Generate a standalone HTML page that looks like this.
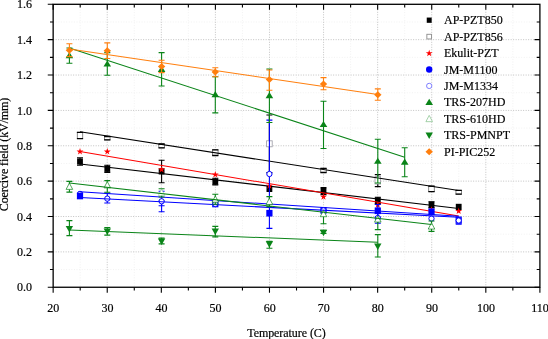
<!DOCTYPE html><html><head><meta charset="utf-8"><style>html,body{margin:0;padding:0;background:#fff}svg{display:block;will-change:transform}text{font-family:"Liberation Serif",serif;font-size:12px;fill:#000;stroke:#000;stroke-width:0.18px}</style></head><body>
<svg width="548" height="339" viewBox="0 0 548 339">
<rect width="548" height="339" fill="#fff"/>
<g fill="none" stroke-width="0.8">
<line x1="80.19" y1="4.3" x2="80.19" y2="287.25" stroke="#efefef" stroke-dasharray="1 1.6"/>
<line x1="134.28" y1="4.3" x2="134.28" y2="287.25" stroke="#efefef" stroke-dasharray="1 1.6"/>
<line x1="188.36" y1="4.3" x2="188.36" y2="287.25" stroke="#efefef" stroke-dasharray="1 1.6"/>
<line x1="242.44" y1="4.3" x2="242.44" y2="287.25" stroke="#efefef" stroke-dasharray="1 1.6"/>
<line x1="296.52" y1="4.3" x2="296.52" y2="287.25" stroke="#efefef" stroke-dasharray="1 1.6"/>
<line x1="350.61" y1="4.3" x2="350.61" y2="287.25" stroke="#efefef" stroke-dasharray="1 1.6"/>
<line x1="404.69" y1="4.3" x2="404.69" y2="287.25" stroke="#efefef" stroke-dasharray="1 1.6"/>
<line x1="458.77" y1="4.3" x2="458.77" y2="287.25" stroke="#efefef" stroke-dasharray="1 1.6"/>
<line x1="512.86" y1="4.3" x2="512.86" y2="287.25" stroke="#efefef" stroke-dasharray="1 1.6"/>
<line x1="53.15" y1="269.57" x2="539.9" y2="269.57" stroke="#efefef" stroke-dasharray="1 1.6"/>
<line x1="53.15" y1="234.20" x2="539.9" y2="234.20" stroke="#efefef" stroke-dasharray="1 1.6"/>
<line x1="53.15" y1="198.83" x2="539.9" y2="198.83" stroke="#efefef" stroke-dasharray="1 1.6"/>
<line x1="53.15" y1="163.46" x2="539.9" y2="163.46" stroke="#efefef" stroke-dasharray="1 1.6"/>
<line x1="53.15" y1="128.09" x2="539.9" y2="128.09" stroke="#efefef" stroke-dasharray="1 1.6"/>
<line x1="53.15" y1="92.72" x2="539.9" y2="92.72" stroke="#efefef" stroke-dasharray="1 1.6"/>
<line x1="53.15" y1="57.35" x2="539.9" y2="57.35" stroke="#efefef" stroke-dasharray="1 1.6"/>
<line x1="53.15" y1="21.98" x2="539.9" y2="21.98" stroke="#efefef" stroke-dasharray="1 1.6"/>
<line x1="107.23" y1="4.3" x2="107.23" y2="287.25" stroke="#c2c2c2" stroke-dasharray="1 1.5" stroke-width="1"/>
<line x1="161.32" y1="4.3" x2="161.32" y2="287.25" stroke="#c2c2c2" stroke-dasharray="1 1.5" stroke-width="1"/>
<line x1="215.40" y1="4.3" x2="215.40" y2="287.25" stroke="#c2c2c2" stroke-dasharray="1 1.5" stroke-width="1"/>
<line x1="269.48" y1="4.3" x2="269.48" y2="287.25" stroke="#c2c2c2" stroke-dasharray="1 1.5" stroke-width="1"/>
<line x1="323.57" y1="4.3" x2="323.57" y2="287.25" stroke="#c2c2c2" stroke-dasharray="1 1.5" stroke-width="1"/>
<line x1="377.65" y1="4.3" x2="377.65" y2="287.25" stroke="#c2c2c2" stroke-dasharray="1 1.5" stroke-width="1"/>
<line x1="431.73" y1="4.3" x2="431.73" y2="287.25" stroke="#c2c2c2" stroke-dasharray="1 1.5" stroke-width="1"/>
<line x1="485.82" y1="4.3" x2="485.82" y2="287.25" stroke="#c2c2c2" stroke-dasharray="1 1.5" stroke-width="1"/>
<line x1="53.15" y1="251.88" x2="539.9" y2="251.88" stroke="#c2c2c2" stroke-dasharray="1 1.5" stroke-width="1"/>
<line x1="53.15" y1="216.51" x2="539.9" y2="216.51" stroke="#c2c2c2" stroke-dasharray="1 1.5" stroke-width="1"/>
<line x1="53.15" y1="181.14" x2="539.9" y2="181.14" stroke="#c2c2c2" stroke-dasharray="1 1.5" stroke-width="1"/>
<line x1="53.15" y1="145.78" x2="539.9" y2="145.78" stroke="#c2c2c2" stroke-dasharray="1 1.5" stroke-width="1"/>
<line x1="53.15" y1="110.41" x2="539.9" y2="110.41" stroke="#c2c2c2" stroke-dasharray="1 1.5" stroke-width="1"/>
<line x1="53.15" y1="75.04" x2="539.9" y2="75.04" stroke="#c2c2c2" stroke-dasharray="1 1.5" stroke-width="1"/>
<line x1="53.15" y1="39.67" x2="539.9" y2="39.67" stroke="#c2c2c2" stroke-dasharray="1 1.5" stroke-width="1"/>
</g>
<path d="M80.00 157.70V165.30M77.00 165.30h6M77.00 157.70h6" stroke="#000" fill="none" stroke-width="1.1"/>
<path d="M107.30 165.20V172.40M104.30 172.40h6M104.30 165.20h6" stroke="#000" fill="none" stroke-width="1.1"/>
<path d="M161.60 160.20V182.70M158.60 182.70h6M158.60 160.20h6" stroke="#000" fill="none" stroke-width="1.1"/>
<path d="M215.30 178.30V184.90M212.30 184.90h6M212.30 178.30h6" stroke="#000" fill="none" stroke-width="1.1"/>
<path d="M323.50 187.60V194.60M320.50 194.60h6M320.50 187.60h6" stroke="#000" fill="none" stroke-width="1.1"/>
<path d="M377.80 197.20V203.60M374.80 203.60h6M374.80 197.20h6" stroke="#000" fill="none" stroke-width="1.1"/>
<path d="M431.50 201.80V207.60M428.50 207.60h6M428.50 201.80h6" stroke="#000" fill="none" stroke-width="1.1"/>
<rect x="77.10" y="158.40" width="5.80" height="6.20" fill="#000"/>
<rect x="104.40" y="165.70" width="5.80" height="6.20" fill="#000"/>
<rect x="158.70" y="168.30" width="5.80" height="6.20" fill="#000"/>
<rect x="212.40" y="178.50" width="5.80" height="6.20" fill="#000"/>
<rect x="266.50" y="185.80" width="5.80" height="6.20" fill="#000"/>
<rect x="320.60" y="188.00" width="5.80" height="6.20" fill="#000"/>
<rect x="374.90" y="197.30" width="5.80" height="6.20" fill="#000"/>
<rect x="428.60" y="201.60" width="5.80" height="6.20" fill="#000"/>
<rect x="455.80" y="203.80" width="5.80" height="6.20" fill="#000"/>
<line x1="80" y1="163.9" x2="458.7" y2="208.5" stroke="#000" stroke-width="1.05"/>
<path d="M269.40 115.0V172.6M266.40 115.0h6M266.40 172.6h6" stroke="#000" fill="none" stroke-width="1.2"/>
<rect x="266.60" y="140.80" width="5.6" height="6.00" fill="#fff" stroke="#9a9aa4" stroke-width="0.8"/>
<path d="M377.80 174.7V186.7M374.80 174.7h6M374.80 186.7h6" stroke="#000" fill="none" stroke-width="1.2"/>
<rect x="375.00" y="176.60" width="5.6" height="7.40" fill="#fff" stroke="#9a9aa4" stroke-width="0.8"/>
<rect x="77.25" y="132.30" width="5.5" height="6.30" fill="#fff" stroke="#555" stroke-width="0.7"/>
<path d="M76.90 132.30h6.2M76.90 138.60h6.2" stroke="#000" fill="none" stroke-width="1.3"/>
<rect x="104.55" y="136.50" width="5.5" height="3.40" fill="#fff" stroke="#555" stroke-width="0.7"/>
<path d="M104.20 136.50h6.2M104.20 139.90h6.2" stroke="#000" fill="none" stroke-width="1.3"/>
<rect x="158.85" y="144.00" width="5.5" height="3.80" fill="#fff" stroke="#555" stroke-width="0.7"/>
<path d="M158.50 144.00h6.2M158.50 147.80h6.2" stroke="#000" fill="none" stroke-width="1.3"/>
<rect x="212.55" y="149.80" width="5.5" height="5.70" fill="#fff" stroke="#555" stroke-width="0.7"/>
<path d="M212.20 149.80h6.2M212.20 155.50h6.2" stroke="#000" fill="none" stroke-width="1.3"/>
<rect x="320.75" y="168.30" width="5.5" height="4.20" fill="#fff" stroke="#555" stroke-width="0.7"/>
<path d="M320.40 168.30h6.2M320.40 172.50h6.2" stroke="#000" fill="none" stroke-width="1.3"/>
<rect x="428.75" y="186.10" width="5.5" height="5.60" fill="#fff" stroke="#555" stroke-width="0.7"/>
<path d="M428.40 186.10h6.2M428.40 191.70h6.2" stroke="#000" fill="none" stroke-width="1.3"/>
<rect x="455.95" y="190.30" width="5.5" height="3.80" fill="#fff" stroke="#555" stroke-width="0.7"/>
<path d="M455.60 190.30h6.2M455.60 194.10h6.2" stroke="#000" fill="none" stroke-width="1.3"/>
<line x1="80" y1="131.8" x2="458.7" y2="190.6" stroke="#000" stroke-width="1.05"/>
<polygon points="80.00,148.10 80.82,150.57 83.42,150.59 81.33,152.13 82.12,154.61 80.00,153.10 77.88,154.61 78.67,152.13 76.58,150.59 79.18,150.57" fill="#ff0000"/>
<polygon points="107.30,148.10 108.12,150.57 110.72,150.59 108.63,152.13 109.42,154.61 107.30,153.10 105.18,154.61 105.97,152.13 103.88,150.59 106.48,150.57" fill="#ff0000"/>
<polygon points="161.60,165.90 162.42,168.37 165.02,168.39 162.93,169.93 163.72,172.41 161.60,170.90 159.48,172.41 160.27,169.93 158.18,168.39 160.78,168.37" fill="#ff0000"/>
<polygon points="215.30,171.00 216.12,173.47 218.72,173.49 216.63,175.03 217.42,177.51 215.30,176.00 213.18,177.51 213.97,175.03 211.88,173.49 214.48,173.47" fill="#ff0000"/>
<polygon points="269.40,182.30 270.22,184.77 272.82,184.79 270.73,186.33 271.52,188.81 269.40,187.30 267.28,188.81 268.07,186.33 265.98,184.79 268.58,184.77" fill="#ff0000"/>
<polygon points="323.50,193.30 324.32,195.77 326.92,195.79 324.83,197.33 325.62,199.81 323.50,198.30 321.38,199.81 322.17,197.33 320.08,195.79 322.68,195.77" fill="#ff0000"/>
<polygon points="377.80,201.40 378.62,203.87 381.22,203.89 379.13,205.43 379.92,207.91 377.80,206.40 375.68,207.91 376.47,205.43 374.38,203.89 376.98,203.87" fill="#ff0000"/>
<polygon points="431.50,206.30 432.32,208.77 434.92,208.79 432.83,210.33 433.62,212.81 431.50,211.30 429.38,212.81 430.17,210.33 428.08,208.79 430.68,208.77" fill="#ff0000"/>
<polygon points="458.70,207.50 459.52,209.97 462.12,209.99 460.03,211.53 460.82,214.01 458.70,212.50 456.58,214.01 457.37,211.53 455.28,209.99 457.88,209.97" fill="#ff0000"/>
<line x1="80" y1="151.4" x2="458.7" y2="216.0" stroke="#ff0000" stroke-width="1.05"/>
<path d="M161.60 201.00V205.70M158.60 205.70h6M158.60 201.00h6" stroke="#0000ff" fill="none" stroke-width="1.1"/>
<path d="M377.80 204.50V217.10M374.80 217.10h6M374.80 204.50h6" stroke="#0000ff" fill="none" stroke-width="1.1"/>
<path d="M458.70 217.00V224.20M455.70 224.20h6M455.70 217.00h6" stroke="#0000ff" fill="none" stroke-width="1.1"/>
<rect x="76.90" y="192.68" width="6.21" height="6.63" fill="#0000ff"/>
<rect x="212.20" y="200.68" width="6.21" height="6.63" fill="#0000ff"/>
<rect x="266.30" y="209.88" width="6.21" height="6.63" fill="#0000ff"/>
<rect x="320.40" y="207.08" width="6.21" height="6.63" fill="#0000ff"/>
<rect x="374.70" y="207.48" width="6.21" height="6.63" fill="#0000ff"/>
<rect x="428.40" y="208.38" width="6.21" height="6.63" fill="#0000ff"/>
<rect x="455.60" y="217.18" width="6.21" height="6.63" fill="#0000ff"/>
<line x1="80" y1="191.8" x2="458.7" y2="216.3" stroke="#0000ff" stroke-width="1.05"/>
<path d="M107.30 193.30V203.00M104.30 203.00h6M104.30 193.30h6" stroke="#0000ff" fill="none" stroke-width="1.1"/>
<path d="M161.60 191.20V211.70M158.60 211.70h6M158.60 191.20h6" stroke="#0000ff" fill="none" stroke-width="1.1"/>
<path d="M269.40 120.10V228.40M266.40 228.40h6M266.40 120.10h6" stroke="#0000ff" fill="none" stroke-width="1.1"/>
<path d="M377.80 212.70V223.30M374.80 223.30h6M374.80 212.70h6" stroke="#0000ff" fill="none" stroke-width="1.1"/>
<circle cx="80.00" cy="193.90" r="2.65" fill="none" stroke="#0000ff" stroke-width="1"/>
<circle cx="107.30" cy="198.60" r="2.65" fill="#fff" stroke="#0000ff" stroke-width="1"/>
<circle cx="161.60" cy="201.30" r="2.65" fill="#fff" stroke="#0000ff" stroke-width="1"/>
<circle cx="215.30" cy="204.00" r="2.65" fill="#fff" stroke="#0000ff" stroke-width="1"/>
<circle cx="269.40" cy="174.00" r="2.65" fill="#fff" stroke="#0000ff" stroke-width="1"/>
<circle cx="323.50" cy="210.40" r="2.65" fill="#fff" stroke="#0000ff" stroke-width="1"/>
<circle cx="377.80" cy="218.00" r="2.65" fill="#fff" stroke="#0000ff" stroke-width="1"/>
<circle cx="431.50" cy="218.60" r="2.65" fill="#fff" stroke="#0000ff" stroke-width="1"/>
<circle cx="458.70" cy="220.50" r="2.65" fill="#fff" stroke="#0000ff" stroke-width="1"/>
<line x1="80" y1="197.6" x2="458.7" y2="217.2" stroke="#0000ff" stroke-width="1.05"/>
<path d="M69.40 48.00V63.30M66.40 63.30h6M66.40 48.00h6" stroke="#0a8418" fill="none" stroke-width="1.1"/>
<path d="M107.30 52.60V75.20M104.30 75.20h6M104.30 52.60h6" stroke="#0a8418" fill="none" stroke-width="1.1"/>
<path d="M161.60 52.60V86.00M158.60 86.00h6M158.60 52.60h6" stroke="#0a8418" fill="none" stroke-width="1.1"/>
<path d="M215.30 76.70V112.90M212.30 112.90h6M212.30 76.70h6" stroke="#0a8418" fill="none" stroke-width="1.1"/>
<path d="M269.40 69.00V122.50M266.40 122.50h6M266.40 69.00h6" stroke="#0a8418" fill="none" stroke-width="1.1"/>
<path d="M323.50 101.30V148.50M320.50 148.50h6M320.50 101.30h6" stroke="#0a8418" fill="none" stroke-width="1.1"/>
<path d="M377.80 139.30V183.00M374.80 183.00h6M374.80 139.30h6" stroke="#0a8418" fill="none" stroke-width="1.1"/>
<path d="M404.70 147.80V176.70M401.70 176.70h6M401.70 147.80h6" stroke="#0a8418" fill="none" stroke-width="1.1"/>
<polygon points="69.40,52.10 73.20,58.20 65.60,58.20" fill="#0a8418"/>
<polygon points="107.30,60.40 111.10,66.50 103.50,66.50" fill="#0a8418"/>
<polygon points="161.60,65.80 165.40,71.90 157.80,71.90" fill="#0a8418"/>
<polygon points="215.30,91.10 219.10,97.20 211.50,97.20" fill="#0a8418"/>
<polygon points="269.40,92.10 273.20,98.20 265.60,98.20" fill="#0a8418"/>
<polygon points="323.50,120.90 327.30,127.00 319.70,127.00" fill="#0a8418"/>
<polygon points="377.80,157.70 381.60,163.80 374.00,163.80" fill="#0a8418"/>
<polygon points="404.70,158.60 408.50,164.70 400.90,164.70" fill="#0a8418"/>
<line x1="69.4" y1="48.1" x2="404.7" y2="157.2" stroke="#0a8418" stroke-width="1.05"/>
<path d="M69.40 181.40V192.10M66.40 192.10h6M66.40 181.40h6" stroke="#0a8418" fill="none" stroke-width="1.1"/>
<path d="M107.30 180.60V192.30M104.30 192.30h6M104.30 180.60h6" stroke="#0a8418" fill="none" stroke-width="1.1"/>
<path d="M161.60 188.80V197.00M158.60 197.00h6M158.60 188.80h6" stroke="#0a8418" fill="none" stroke-width="1.1"/>
<path d="M215.30 194.30V204.30M212.30 204.30h6M212.30 194.30h6" stroke="#0a8418" fill="none" stroke-width="1.1"/>
<path d="M269.40 196.60V206.60M266.40 206.60h6M266.40 196.60h6" stroke="#0a8418" fill="none" stroke-width="1.1"/>
<path d="M323.50 213.80V223.80M320.50 223.80h6" stroke="#0a8418" fill="none" stroke-width="1.1"/>
<path d="M377.80 219.20V229.60M374.80 229.60h6" stroke="#0a8418" fill="none" stroke-width="1.1"/>
<path d="M431.50 221.00V231.40M428.50 231.40h6M428.50 221.00h6" stroke="#0a8418" fill="none" stroke-width="1.1"/>
<polygon points="69.40,183.10 72.70,189.39 66.10,189.39" fill="#fff" stroke="#0a8418" stroke-width="0.7"/>
<polygon points="107.30,181.60 110.60,187.89 104.00,187.89" fill="#fff" stroke="#0a8418" stroke-width="0.7"/>
<polygon points="161.60,189.20 164.90,195.49 158.30,195.49" fill="#fff" stroke="#9fd0a6" stroke-width="0.7"/>
<polygon points="215.30,195.90 218.60,202.19 212.00,202.19" fill="#fff" stroke="#0a8418" stroke-width="0.7"/>
<polygon points="269.40,198.20 272.70,204.49 266.10,204.49" fill="#fff" stroke="#0a8418" stroke-width="0.7"/>
<polygon points="323.50,210.40 326.80,216.69 320.20,216.69" fill="#fff" stroke="#0a8418" stroke-width="0.7"/>
<polygon points="377.80,215.80 381.10,222.09 374.50,222.09" fill="#fff" stroke="#0a8418" stroke-width="0.7"/>
<polygon points="431.50,222.80 434.80,229.09 428.20,229.09" fill="#fff" stroke="#0a8418" stroke-width="0.7"/>
<line x1="69.4" y1="183" x2="431.5" y2="224.5" stroke="#0a8418" stroke-width="1.05"/>
<path d="M69.40 220.60V235.60M66.40 235.60h6M66.40 220.60h6" stroke="#0a8418" fill="none" stroke-width="1.1"/>
<path d="M107.30 227.60V235.10M104.30 235.10h6M104.30 227.60h6" stroke="#0a8418" fill="none" stroke-width="1.1"/>
<path d="M161.60 238.10V243.90M158.60 243.90h6M158.60 238.10h6" stroke="#0a8418" fill="none" stroke-width="1.1"/>
<path d="M215.30 226.40V236.90M212.30 236.90h6M212.30 226.40h6" stroke="#0a8418" fill="none" stroke-width="1.1"/>
<path d="M269.40 241.40V248.20M266.40 248.20h6M266.40 241.40h6" stroke="#0a8418" fill="none" stroke-width="1.1"/>
<path d="M323.50 230.40V233.40M320.50 233.40h6M320.50 230.40h6" stroke="#0a8418" fill="none" stroke-width="1.1"/>
<path d="M377.80 234.60V257.00M374.80 257.00h6M374.80 234.60h6" stroke="#0a8418" fill="none" stroke-width="1.1"/>
<polygon points="69.40,232.50 73.10,226.00 65.70,226.00" fill="#0a8418"/>
<polygon points="107.30,235.00 111.00,228.50 103.60,228.50" fill="#0a8418"/>
<polygon points="161.60,245.10 165.30,238.60 157.90,238.60" fill="#0a8418"/>
<polygon points="215.30,235.10 219.00,228.60 211.60,228.60" fill="#0a8418"/>
<polygon points="269.40,247.70 273.10,241.20 265.70,241.20" fill="#0a8418"/>
<polygon points="323.50,236.20 327.20,229.70 319.80,229.70" fill="#0a8418"/>
<polygon points="377.80,250.00 381.50,243.50 374.10,243.50" fill="#0a8418"/>
<line x1="69.4" y1="230.1" x2="377.8" y2="242.2" stroke="#0a8418" stroke-width="1.05"/>
<path d="M69.40 43.80V56.60M66.40 56.60h6M66.40 43.80h6" stroke="#ff7f0e" fill="none" stroke-width="1.1"/>
<path d="M107.30 42.90V58.50M104.30 58.50h6M104.30 42.90h6" stroke="#ff7f0e" fill="none" stroke-width="1.1"/>
<path d="M161.60 60.20V72.60M158.60 72.60h6M158.60 60.20h6" stroke="#ff7f0e" fill="none" stroke-width="1.1"/>
<path d="M215.30 67.70V76.70M212.30 76.70h6M212.30 67.70h6" stroke="#ff7f0e" fill="none" stroke-width="1.1"/>
<path d="M269.40 70.00V90.20M266.40 90.20h6M266.40 70.00h6" stroke="#ff7f0e" fill="none" stroke-width="1.1"/>
<path d="M323.50 77.60V89.80M320.50 89.80h6M320.50 77.60h6" stroke="#ff7f0e" fill="none" stroke-width="1.1"/>
<path d="M377.80 88.90V100.30M374.80 100.30h6M374.80 88.90h6" stroke="#ff7f0e" fill="none" stroke-width="1.1"/>
<polygon points="69.40,46.70 73.10,50.20 69.40,53.70 65.70,50.20" fill="#ff7f0e"/>
<polygon points="107.30,47.20 111.00,50.70 107.30,54.20 103.60,50.70" fill="#ff7f0e"/>
<polygon points="161.60,62.90 165.30,66.40 161.60,69.90 157.90,66.40" fill="#ff7f0e"/>
<polygon points="215.30,68.40 219.00,71.90 215.30,75.40 211.60,71.90" fill="#ff7f0e"/>
<polygon points="269.40,75.90 273.10,79.40 269.40,82.90 265.70,79.40" fill="#ff7f0e"/>
<polygon points="323.50,80.40 327.20,83.90 323.50,87.40 319.80,83.90" fill="#ff7f0e"/>
<polygon points="377.80,91.20 381.50,94.70 377.80,98.20 374.10,94.70" fill="#ff7f0e"/>
<line x1="69.4" y1="48.9" x2="377.8" y2="94.5" stroke="#ff7f0e" stroke-width="1.05"/>
<g stroke="#000" stroke-width="1.3" fill="none">
<rect x="53.15" y="4.3" width="486.75" height="282.95"/>
<path d="M53.15 287.25v5.4M53.15 4.3v5.4M80.19 287.25v3.2M80.19 4.3v3.2M107.23 287.25v5.4M107.23 4.3v5.4M134.28 287.25v3.2M134.28 4.3v3.2M161.32 287.25v5.4M161.32 4.3v5.4M188.36 287.25v3.2M188.36 4.3v3.2M215.40 287.25v5.4M215.40 4.3v5.4M242.44 287.25v3.2M242.44 4.3v3.2M269.48 287.25v5.4M269.48 4.3v5.4M296.52 287.25v3.2M296.52 4.3v3.2M323.57 287.25v5.4M323.57 4.3v5.4M350.61 287.25v3.2M350.61 4.3v3.2M377.65 287.25v5.4M377.65 4.3v5.4M404.69 287.25v3.2M404.69 4.3v3.2M431.73 287.25v5.4M431.73 4.3v5.4M458.77 287.25v3.2M458.77 4.3v3.2M485.82 287.25v5.4M485.82 4.3v5.4M512.86 287.25v3.2M512.86 4.3v3.2M539.90 287.25v5.4M53.15 287.25h-5.4M539.9 287.25h-5.4M53.15 269.57h-3.2M539.9 269.57h-3.2M53.15 251.88h-5.4M539.9 251.88h-5.4M53.15 234.20h-3.2M539.9 234.20h-3.2M53.15 216.51h-5.4M539.9 216.51h-5.4M53.15 198.83h-3.2M539.9 198.83h-3.2M53.15 181.14h-5.4M539.9 181.14h-5.4M53.15 163.46h-3.2M539.9 163.46h-3.2M53.15 145.78h-5.4M539.9 145.78h-5.4M53.15 128.09h-3.2M539.9 128.09h-3.2M53.15 110.41h-5.4M539.9 110.41h-5.4M53.15 92.72h-3.2M539.9 92.72h-3.2M53.15 75.04h-5.4M539.9 75.04h-5.4M53.15 57.35h-3.2M539.9 57.35h-3.2M53.15 39.67h-5.4M539.9 39.67h-5.4M53.15 21.98h-3.2M539.9 21.98h-3.2M53.15 4.30h-5.4" stroke-width="1.1"/>
</g>
<text x="53.35" y="311.7" text-anchor="middle">20</text>
<text x="107.43" y="311.7" text-anchor="middle">30</text>
<text x="161.52" y="311.7" text-anchor="middle">40</text>
<text x="215.60" y="311.7" text-anchor="middle">50</text>
<text x="269.68" y="311.7" text-anchor="middle">60</text>
<text x="323.77" y="311.7" text-anchor="middle">70</text>
<text x="377.85" y="311.7" text-anchor="middle">80</text>
<text x="431.93" y="311.7" text-anchor="middle">90</text>
<text x="486.02" y="311.7" text-anchor="middle">100</text>
<text x="540.10" y="311.7" text-anchor="middle">110</text>
<text x="32" y="291.35" text-anchor="end">0.0</text>
<text x="32" y="255.98" text-anchor="end">0.2</text>
<text x="32" y="220.61" text-anchor="end">0.4</text>
<text x="32" y="185.24" text-anchor="end">0.6</text>
<text x="32" y="149.88" text-anchor="end">0.8</text>
<text x="32" y="114.51" text-anchor="end">1.0</text>
<text x="32" y="79.14" text-anchor="end">1.2</text>
<text x="32" y="43.77" text-anchor="end">1.4</text>
<text x="32" y="8.40" text-anchor="end">1.6</text>
<text x="247.2" y="336.7" textLength="78.6" lengthAdjust="spacing">Temperature (C)</text>
<text transform="translate(8.3 211.2) rotate(-90)" textLength="113.5" lengthAdjust="spacing">Coercive field (kV/mm)</text>
<rect x="426.74" y="17.56" width="4.93" height="5.27" fill="#000"/>
<text x="444.0" y="24.20">AP-PZT850</text>
<rect x="426.86" y="34.29" width="4.67" height="4.67" fill="#fff" stroke="#8c8c8c" stroke-width="0.9"/>
<text x="444.0" y="40.64">AP-PZT856</text>
<polygon points="429.20,49.76 430.02,52.23 432.62,52.25 430.53,53.79 431.32,56.27 429.20,54.76 427.08,56.27 427.87,53.79 425.78,52.25 428.38,52.23" fill="#ff0000"/>
<text x="444.0" y="57.08">Ekulit-PZT</text>
<circle cx="429.20" cy="69.49" r="3.20" fill="#0000ff"/>
<text x="444.0" y="73.52">JM-M1100</text>
<circle cx="429.20" cy="85.92" r="2.65" fill="#fff" stroke="#8080ff" stroke-width="1"/>
<text x="444.0" y="89.96">JM-M1334</text>
<polygon points="429.20,98.85 433.00,104.95 425.40,104.95" fill="#0a8418"/>
<text x="444.0" y="106.40">TRS-207HD</text>
<polygon points="429.20,115.38 432.50,121.67 425.90,121.67" fill="#fff" stroke="#7fbf86" stroke-width="0.7"/>
<text x="444.0" y="122.84">TRS-610HD</text>
<polygon points="429.20,138.91 432.90,132.41 425.50,132.41" fill="#0a8418"/>
<text x="444.0" y="139.28">TRS-PMNPT</text>
<polygon points="429.20,148.14 432.90,151.64 429.20,155.14 425.50,151.64" fill="#ff7f0e"/>
<text x="444.0" y="155.72">PI-PIC252</text>
</svg></body></html>
